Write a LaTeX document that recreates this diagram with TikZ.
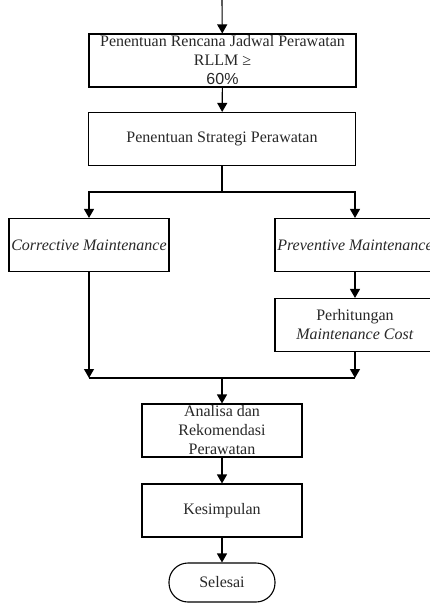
\documentclass[tikz,border=0pt]{standalone}
\usepackage{fontspec}
\setmainfont{Liberation Serif}
\newfontfamily\sansf{Liberation Sans}
\usetikzlibrary{arrows.meta}
\definecolor{txt}{RGB}{40,40,40}
\tikzset{
  box/.style={draw=black, line width=1.1pt, rectangle, minimum width=160pt, minimum height=53pt, inner sep=0pt, align=center, text=txt, font=\fontsize{16}{19}\selectfont},
  wide/.style={box, minimum width=267pt},
  term/.style={box, minimum width=106pt, minimum height=39pt, rounded corners=19pt},
  arr/.style={line width=1.1pt, -{Triangle[length=9pt,width=10pt]}},
  ln/.style={line width=1.1pt}
}
\begin{document}
\begin{tikzpicture}[x=1pt,y=-1pt]
\useasboundingbox (0,0) rectangle (430,603);
\clip (0,0) rectangle (430,603);
\node[wide] (b1) at (222.5,60.5) {Penentuan Rencana Jadwal Perawatan\\RLLM ≥\\{\sansf 60\%}};
\node[wide] (b2) at (222,139) {Penentuan Strategi Perawatan};
\node[box] (corr) at (89,245) {\textit{Corrective Maintenance}};
\node[box] (prev) at (355,245) {\textit{Preventive Maintenance}};
\node[box] (perh) at (355,325) {Perhitungan\\\textit{Maintenance Cost}};
\node[box] (anal) at (222,430.5) {Analisa dan\\Rekomendasi\\Perawatan};
\node[box] (kes) at (222,510.5) {Kesimpulan};
\node[term] (sel) at (222,582.5) {Selesai};
\coordinate (start) at (222,0);
\coordinate (split) at (222,192);
\coordinate (jl) at (89,378);
\coordinate (jr) at (355,378);
\coordinate (jm) at (222,378);
\draw[arr] (start) -- (b1);
\draw[arr] (b1) -- (b2);
\draw[ln] (b2.south) -- (split);
\draw[arr] (split) -| (corr);
\draw[arr] (split) -| (prev);
\draw[arr] (prev) -- (perh);
\draw[arr] (corr) -- (jl);
\draw[arr] (perh) -- (jr);
\draw[ln] (jl) -- (jr);
\draw[arr] (jm) -- (anal);
\draw[arr] (anal) -- (kes);
\draw[arr] (kes) -- (sel);
\end{tikzpicture}
\end{document}
